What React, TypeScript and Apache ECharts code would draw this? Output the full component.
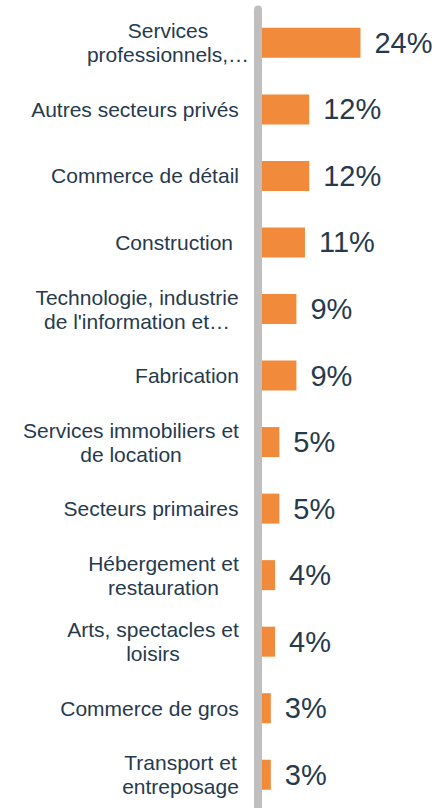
import React, { useEffect, useRef } from "react";
import * as echarts from "echarts";

const categories: string[] = [
  "Services\nprofessionnels,…",
  "Autres secteurs privés",
  "Commerce de détail",
  "Construction ",
  "Technologie, industrie\nde l'information et…",
  "Fabrication",
  "Services immobiliers et\nde location",
  "Secteurs primaires",
  "Hébergement et\nrestauration",
  "Arts, spectacles et\nloisirs",
  "Commerce de gros",
  "Transport et\nentreposage",
];

const values: number[] = [24, 12, 12, 11, 9, 9, 5, 5, 4, 4, 3, 3];

const FONT = "'Liberation Sans', Arial, Helvetica, sans-serif";
const TEXT_COLOR = "#263A4E";
const BAR_COLOR = "#F18A3B";
const AXIS_COLOR = "#BFBFBF";
const CAT_FS = 21;
// label box width override (the truncated first label overflows its box)
const BOX_OVERRIDE: Record<number, number> = { 0: 142 };

export default function App() {
  const ref = useRef<HTMLDivElement>(null);

  useEffect(() => {
    if (!ref.current) return;
    const chart = echarts.init(ref.current, undefined, { renderer: "svg" });

    const canvas = document.createElement("canvas");
    const ctx = canvas.getContext("2d")!;
    ctx.font = `${CAT_FS}px 'Liberation Sans'`;
    const rich: Record<string, any> = {};
    categories.forEach((c, i) => {
      const lines = c.split("\n");
      const w =
        BOX_OVERRIDE[i] ??
        Math.ceil(Math.max(...lines.map((l) => ctx.measureText(l).width)));
      rich["c" + i] = {
        width: w,
        align: "center",
        overflow: "none",
        fontSize: CAT_FS,
        lineHeight: 24,
        fontFamily: FONT,
        color: TEXT_COLOR,
      };
    });

    chart.setOption({
      animation: false,
      grid: { left: 258, top: 9.6, width: 170.8, height: 800.7, containLabel: false },
      xAxis: {
        type: "value",
        min: 0,
        max: 40,
        show: false,
      },
      yAxis: {
        type: "category",
        data: categories,
        inverse: true,
        z: 5,
        axisLine: { show: true, lineStyle: { color: AXIS_COLOR, width: 8 } },
        axisTick: { show: false },
        splitLine: { show: false },
        axisLabel: {
          margin: 19,
          align: "right",
          fontSize: CAT_FS,
          lineHeight: 24,
          fontFamily: FONT,
          color: TEXT_COLOR,
          formatter: (v: string, idx: number) =>
            v
              .split("\n")
              .map((l) => `{c${idx}|${l}}`)
              .join("\n"),
          rich,
        },
      },
      series: [
        {
          type: "bar",
          data: values,
          barWidth: 30,
          itemStyle: { color: BAR_COLOR },
          label: {
            show: true,
            position: "right",
            distance: 14,
            formatter: (p: any) => `${p.value}%`,
            fontSize: 29,
            fontFamily: FONT,
            color: TEXT_COLOR,
          },
        },
      ],
    });

    return () => chart.dispose();
  }, []);

  return (
    <div
      ref={ref}
      style={{ position: "absolute", left: 0, top: 0, width: 437, height: 808 }}
    />
  );
}
